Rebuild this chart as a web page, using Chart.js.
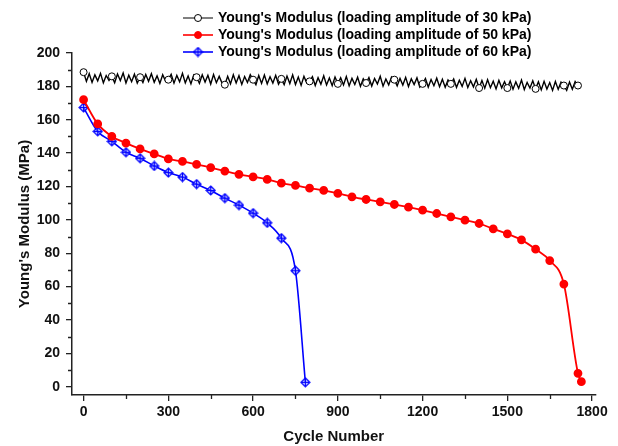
<!DOCTYPE html>
<html>
<head>
<meta charset="utf-8">
<script src="https://cdn.jsdelivr.net/npm/chart.js@4/dist/chart.umd.min.js"></script>
<style>
html, body { margin: 0; padding: 0; background: #fff; }
#wrap { width: 618px; height: 446px; }
</style>
</head>
<body>
<div id="wrap"><canvas id="chart" width="618" height="446"></canvas></div>
<script>
var FONT = "Arial, 'Liberation Sans', sans-serif";

// 30 kPa: raw trace, one value every 10 cycles (0 .. 1760)
var modulus30 = [
    188.5, 183.0, 187.6, 182.4, 186.9, 183.3, 187.8, 182.1, 186.5, 183.6,
    186.0, 182.2, 187.4, 183.5, 188.0, 182.0, 186.7, 182.8, 187.3, 181.9,
    185.5, 182.3, 187.1, 183.0, 187.6, 182.5, 186.3, 181.8, 187.0, 183.2,
    184.0, 187.2, 181.9, 186.6, 182.7, 187.8, 182.1, 186.2, 181.5, 186.9,
    185.5, 181.8, 186.9, 182.6, 186.7, 181.4, 187.1, 182.2, 186.0, 182.0,
    181.0, 186.0, 181.5, 186.9, 182.0, 186.4, 181.2, 185.9, 182.3, 187.0,
    184.0, 181.0, 186.5, 181.8, 186.8, 181.5, 185.8, 182.0, 186.6, 181.3,
    184.5, 181.0, 186.2, 181.7, 186.9, 181.1, 185.6, 180.6, 186.0, 182.0,
    183.0, 185.8, 180.5, 185.2, 181.3, 186.3, 180.8, 185.0, 180.4, 185.6,
    181.5, 185.1, 180.8, 185.9, 180.3, 184.8, 181.1, 185.5, 180.0, 184.6,
    182.0, 185.3, 180.2, 184.7, 181.4, 186.0, 180.1, 184.4, 180.9, 185.6,
    184.0, 180.3, 184.8, 180.8, 185.4, 179.9, 184.5, 181.1, 185.1, 179.6,
    181.5, 184.7, 179.6, 184.1, 180.4, 184.9, 179.8, 184.3, 179.5, 183.8,
    181.5, 184.5, 179.4, 183.7, 180.0, 184.8, 179.3, 183.4, 179.7, 184.2,
    179.0, 183.5, 178.9, 184.0, 179.2, 183.1, 178.5, 183.6, 179.1, 182.8,
    179.0, 183.2, 178.3, 182.7, 178.8, 183.8, 178.1, 182.4, 179.0, 183.3,
    178.5, 182.8, 177.9, 183.0, 178.4, 182.3, 177.6, 182.9, 178.2, 182.5,
    180.5, 177.6, 182.6, 178.3, 182.9, 180.5, 180.2
];
var step30 = 10;
var cycles30 = modulus30.map(function (v, i) { return i * step30; });
var markerCycles30 = [0, 100, 200, 300, 400, 500, 600, 700, 800, 900, 1000,
    1100, 1200, 1300, 1400, 1500, 1600, 1700, 1750];

// 50 kPa
var cycles50 = [0, 50, 100, 150, 200, 250, 300, 350, 400, 450, 500,
    550, 600, 650, 700, 750, 800, 850, 900, 950, 1000,
    1050, 1100, 1150, 1200, 1250, 1300, 1350, 1400, 1450, 1500,
    1550, 1600, 1650, 1700, 1750, 1762];
var modulus50 = [172, 157.5, 150, 146, 142.5, 139.5, 136.5, 135, 133.2, 131.3, 129.2,
    127.3, 125.8, 124.2, 122, 120.6, 119, 117.6, 115.8, 113.8, 112.2,
    110.8, 109.2, 107.6, 105.8, 103.8, 101.8, 99.8, 97.8, 94.6, 91.6,
    88, 82.4, 75.6, 61.5, 8, 3];

// 60 kPa
var cycles60 = [0, 50, 100, 150, 200, 250, 300, 350, 400, 450, 500,
    550, 600, 650, 700, 750, 785];
var modulus60 = [167.3, 153, 147, 140.5, 136.9, 132.3, 128.3, 125.6, 121.4, 117.6, 113,
    108.8, 104, 98.2, 89, 69.5, 2.6];

var seriesLabels = [
    "Young's Modulus (loading amplitude of 30 kPa)",
    "Young's Modulus (loading amplitude of 50 kPa)",
    "Young's Modulus (loading amplitude of 60 kPa)"
];

var xTicks = [0, 150, 300, 450, 600, 750, 900, 1050, 1200, 1350, 1500, 1650, 1800];
var yTicks = [0, 10, 20, 30, 40, 50, 60, 70, 80, 90, 100, 110, 120, 130, 140, 150,
    160, 170, 180, 190, 200];

function toPoints(xs, ys) {
    return xs.map(function (x, i) { return { x: x, y: ys[i] }; });
}

// blue crossed diamond marker
function makeDiamond() {
    var c = document.createElement("canvas");
    c.width = 11;
    c.height = 11;
    var g = c.getContext("2d");
    g.beginPath();
    g.moveTo(5.5, 1); g.lineTo(10, 5.5); g.lineTo(5.5, 10); g.lineTo(1, 5.5);
    g.closePath();
    g.fillStyle = "rgba(140,150,255,0.55)";
    g.fill();
    g.strokeStyle = "#0000ff";
    g.lineWidth = 1.2;
    g.stroke();
    g.beginPath();
    g.moveTo(5.5, 2); g.lineTo(5.5, 9);
    g.moveTo(2, 5.5); g.lineTo(9, 5.5);
    g.lineWidth = 1;
    g.stroke();
    return c;
}
var diamond = makeDiamond();

function drawLegendMarker(ctx, i, x, y) {
    if (i === 2) {
        ctx.drawImage(diamond, x - diamond.width / 2, y - diamond.height / 2);
        return;
    }
    ctx.beginPath();
    ctx.arc(x, y, 3.5, 0, Math.PI * 2);
    ctx.fillStyle = i === 0 ? "#ffffff" : "#ff0000";
    ctx.fill();
    ctx.lineWidth = 1;
    ctx.strokeStyle = i === 0 ? "#000000" : "#ff0000";
    ctx.stroke();
}

// legend drawn by hand so it can sit over the top of the plot like the original
var legendPlugin = {
    id: "seriesLegend",
    afterDraw: function (chart) {
        var ctx = chart.ctx;
        var rowY = [18, 35, 52];
        ctx.save();
        ctx.font = "bold 14px " + FONT;
        ctx.textBaseline = "middle";
        chart.data.datasets.forEach(function (ds, i) {
            var y = rowY[i];
            ctx.strokeStyle = ds.borderColor;
            ctx.lineWidth = i === 0 ? 1 : 1.6;
            ctx.beginPath();
            ctx.moveTo(183, y);
            ctx.lineTo(213, y);
            ctx.stroke();
            drawLegendMarker(ctx, i, 198, y);
            ctx.fillStyle = "#000";
            ctx.fillText(ds.label, 218, y);
        });
        ctx.restore();
    }
};

// short minor ticks (major ones come from the grid options)
var minorTickPlugin = {
    id: "minorTicks",
    afterDraw: function (chart) {
        var ctx = chart.ctx;
        var xs = chart.scales.x, ys = chart.scales.y;
        ctx.save();
        ctx.strokeStyle = "#222";
        ctx.lineWidth = 1.3;
        ctx.beginPath();
        xTicks.forEach(function (v) {
            if (v % 300 === 0) return;
            var px = Math.round(xs.getPixelForValue(v)) + 0.5;
            ctx.moveTo(px, ys.bottom);
            ctx.lineTo(px, ys.bottom + 4);
        });
        yTicks.forEach(function (v) {
            if (v % 20 === 0) return;
            var py = Math.round(ys.getPixelForValue(v)) + 0.5;
            ctx.moveTo(xs.left - 4, py);
            ctx.lineTo(xs.left, py);
        });
        ctx.stroke();
        ctx.restore();
    }
};

var chart = new Chart(document.getElementById("chart"), {
    type: "line",
    data: {
        datasets: [
            {
                label: seriesLabels[0],
                data: toPoints(cycles30, modulus30),
                borderColor: "#000000",
                borderWidth: 1.4,
                pointRadius: function (c) {
                    return c.raw && markerCycles30.indexOf(c.raw.x) >= 0 ? 3.5 : 0;
                },
                pointBackgroundColor: "#ffffff",
                pointBorderColor: "#000000",
                pointBorderWidth: 1,
                tension: 0
            },
            {
                label: seriesLabels[1],
                data: toPoints(cycles50, modulus50),
                borderColor: "#ff0000",
                borderWidth: 1.8,
                pointRadius: 3.5,
                pointBackgroundColor: "#ff0000",
                pointBorderColor: "#ff0000",
                cubicInterpolationMode: "monotone"
            },
            {
                label: seriesLabels[2],
                data: toPoints(cycles60, modulus60),
                borderColor: "#0000ff",
                borderWidth: 1.6,
                pointRadius: 4,
                pointStyle: diamond,
                cubicInterpolationMode: "monotone"
            }
        ]
    },
    options: {
        responsive: false,
        animation: false,
        layout: { padding: { top: 53, right: 22.5, left: 0, bottom: 0 } },
        plugins: {
            legend: { display: false },
            tooltip: { enabled: false }
        },
        scales: {
            x: {
                type: "linear",
                min: -41,
                max: 1812,
                afterBuildTicks: function (s) {
                    s.ticks = xTicks.map(function (v) { return { value: v }; });
                },
                afterFit: function (s) { s.height = 51; },
                ticks: {
                    autoSkip: false,
                    maxRotation: 0,
                    padding: 3,
                    color: "#111",
                    font: { family: FONT, size: 14, weight: "bold" },
                    callback: function (v) { return v % 300 === 0 ? v : ""; }
                },
                grid: {
                    drawOnChartArea: false,
                    tickLength: 6,
                    lineWidth: 1.3,
                    color: function (c) {
                        return c.tick && c.tick.value % 300 !== 0 ? "rgba(0,0,0,0)" : "#222";
                    }
                },
                border: { color: "#222", width: 1.5 },
                title: {
                    display: true,
                    text: "Cycle Number",
                    color: "#111",
                    padding: { top: 0, bottom: 0 },
                    font: { family: FONT, size: 15, weight: "bold" }
                }
            },
            y: {
                type: "linear",
                min: -5,
                max: 200,
                afterBuildTicks: function (s) {
                    s.ticks = yTicks.map(function (v) { return { value: v }; });
                },
                afterFit: function (s) { s.width = 72; },
                ticks: {
                    autoSkip: false,
                    padding: 6,
                    color: "#111",
                    font: { family: FONT, size: 14, weight: "bold" },
                    callback: function (v) { return v % 20 === 0 ? v : ""; }
                },
                grid: {
                    drawOnChartArea: false,
                    tickLength: 6,
                    lineWidth: 1.3,
                    color: function (c) {
                        return c.tick && c.tick.value % 20 !== 0 ? "rgba(0,0,0,0)" : "#222";
                    }
                },
                border: { color: "#222", width: 1.5 },
                title: {
                    display: true,
                    text: "Young's Modulus (MPa)",
                    color: "#111",
                    padding: { top: 16, bottom: 0 },
                    font: { family: FONT, size: 15, weight: "bold" }
                }
            }
        }
    },
    plugins: [legendPlugin, minorTickPlugin]
});
</script>
</body>
</html>
